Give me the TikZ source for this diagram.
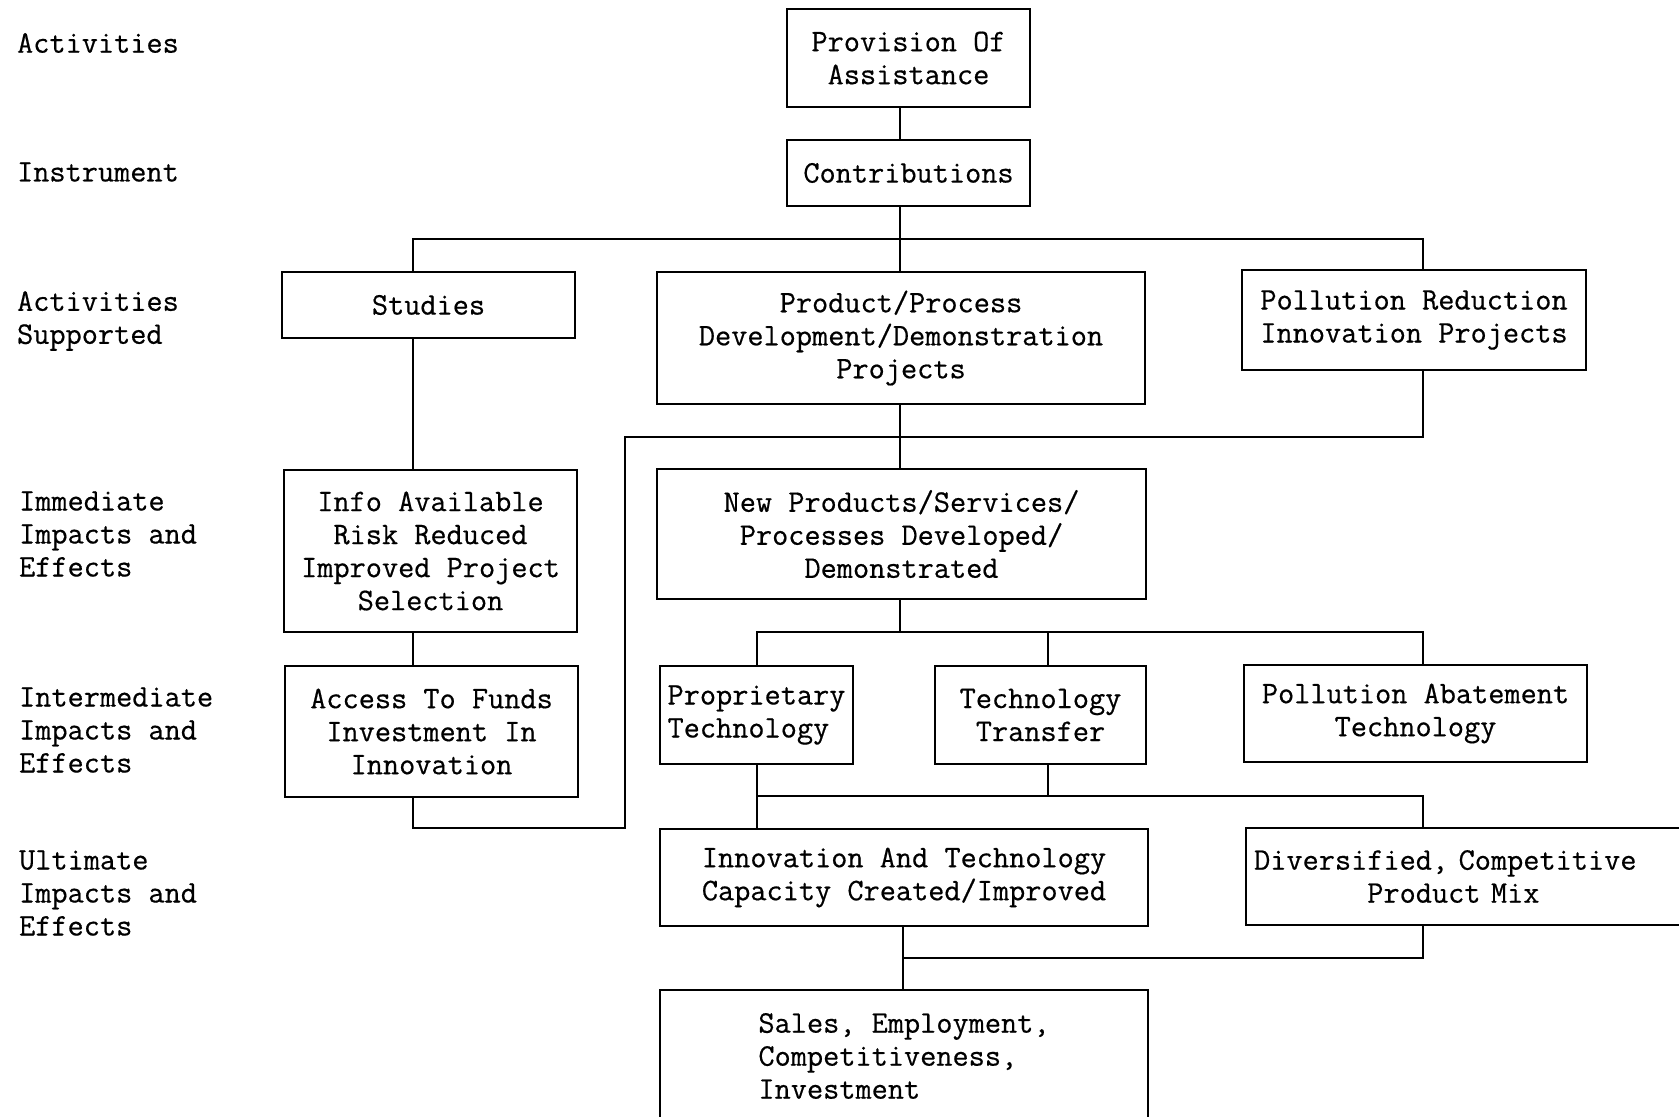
\documentclass[tikz,border=0pt]{standalone}
\usepackage{fontspec}
\newfontfamily\typew[FakeBold=0.5]{Latin Modern Mono}
\begin{document}
\begin{tikzpicture}[x=0.5pt,y=-0.5pt,line width=1.1pt,
    every node/.style={font=\typew\fontsize{15.7}{16.5}\selectfont},
    box/.style={draw,inner sep=0pt,align=center},
    lbl/.style={anchor=west,inner sep=0pt,align=left}]
  % Pixel-Raster: x nach rechts, y nach unten
  \def\px{0.5pt}
  \useasboundingbox (0,0) rectangle (1679,1117);
  % Spalten und Sammelschienen der Verbindungslinien
  \coordinate (mainx) at (900,0);  \coordinate (lowx) at (903,0);
  \coordinate (leftx) at (413,0);  \coordinate (rightx) at (1423,0);
  \coordinate (propx) at (757,0);  \coordinate (techx) at (1048,0);
  \coordinate (loopx) at (625,0);
  \coordinate (busA) at (0,239);   \coordinate (busB) at (0,437);
  \coordinate (busC) at (0,632);   \coordinate (busD) at (0,796);
  \coordinate (busE) at (0,958);   \coordinate (loopB) at (0,828);
  % Ebenen links
  \node[lbl] (lAct) at (16,43) {Activities};
  \node[lbl] (lInst) at (16,172) {Instrument};
  \node[lbl] (lSupp) at (16,321) {Activities\\Supported};
  \node[lbl] (lImm) at (18,534) {Immediate\\Impacts and\\Effects};
  \node[lbl] (lInt) at (18,730) {Intermediate\\Impacts and\\Effects};
  \node[lbl] (lUlt) at (18,893) {Ultimate\\Impacts and\\Effects};
  % Kaesten
  \node[box,minimum width=243*\px,minimum height=98*\px] (prov) at (908.5,58) {Provision Of\\Assistance};
  \node[box,minimum width=243*\px,minimum height=66*\px] (contrib) at (908.5,173) {Contributions};
  \node[box,minimum width=293*\px,minimum height=66*\px] (studies) at (428.5,305) {Studies};
  \node[box,minimum width=488*\px,minimum height=132*\px] (product) at (901,338) {Product/Process\\Development/Demonstration\\Projects};
  \node[box,minimum width=344*\px,minimum height=100*\px,align=left] (pollred) at (1414,320) {Pollution Reduction\\Innovation Projects};
  \node[box,minimum width=293*\px,minimum height=162*\px] (info) at (430.5,551) {Info Available\\Risk Reduced\\Improved Project\\Selection};
  \node[box,minimum width=293*\px,minimum height=131*\px] (access) at (431.5,731.5) {Access To Funds\\Investment In\\Innovation};
  \node[box,minimum width=489*\px,minimum height=130*\px] (newprod) at (901.5,534) {New Products/Services/\\Processes Developed/\\Demonstrated};
  \node[box,minimum width=193*\px,minimum height=98*\px,align=left] (propr) at (756.5,715) {Proprietary\\Technology};
  \node[box,minimum width=211*\px,minimum height=98*\px] (techtr) at (1040.5,715) {Technology\\Transfer};
  \node[box,minimum width=343*\px,minimum height=97*\px] (pollab) at (1415.5,713.5) {Pollution Abatement\\Technology};
  \node[box,minimum width=488*\px,minimum height=97*\px] (innov) at (904,877.5) {Innovation And Technology\\Capacity Created/Improved};
  \node[box,anchor=west,minimum height=97*\px,inner xsep=4pt,text width=225pt,align=left] (divers) at (1245,876.5) {Diversified, Competitive\\\phantom{Diversi}Product Mix};
  \node[box,minimum width=488*\px,minimum height=132*\px,align=left] (sales) at (904,1056) {Sales, Employment,\\Competitiveness,\\Investment};
  % Verbindungen
  \draw (prov.south -| mainx) -- (contrib.north -| mainx);
  \draw (contrib.south -| mainx) -- (product.north -| mainx);
  \draw (studies.north -| leftx) |- (busA -| rightx) -- (pollred.north -| rightx);
  \draw (studies.south -| leftx) -- (info.north -| leftx);
  \draw (info.south -| leftx) -- (access.north -| leftx);
  \draw (access.south -| leftx) |- (loopB -| loopx) |- (busB -| rightx) -- (pollred.south -| rightx);
  \draw (product.south -| mainx) -- (newprod.north -| mainx);
  \draw (newprod.south -| mainx) -- (busC -| mainx);
  \draw (propr.north -| propx) |- (busC -| rightx) -- (pollab.north -| rightx);
  \draw (techtr.north -| techx) -- (busC -| techx);
  \draw (propr.south -| propx) -- (innov.north -| propx);
  \draw (techtr.south -| techx) -- (busD -| techx);
  \draw (busD -| propx) -| (divers.north -| rightx);
  \draw (innov.south -| lowx) |- (busE -| rightx) -- (divers.south -| rightx);
  \draw (busE -| lowx) -- (sales.north -| lowx);
\end{tikzpicture}
\end{document}
